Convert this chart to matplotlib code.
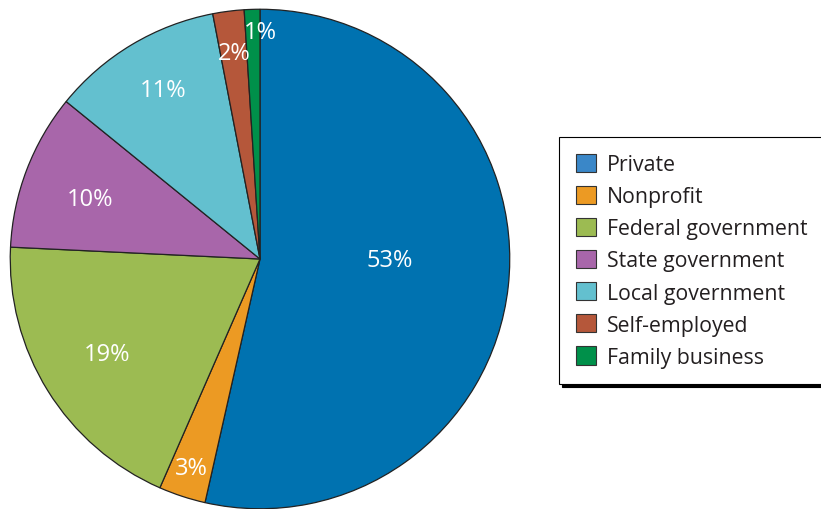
import matplotlib
matplotlib.use("Agg")
import matplotlib.pyplot as plt
import matplotlib.patches as mpatches
import numpy as np

plt.rcParams.update({
    "font.family": ["Open Sans", "DejaVu Sans"],
    "font.size": 15,
})

sectors = ["Private", "Nonprofit", "Federal government", "State government",
           "Local government", "Self-employed", "Family business"]
shares = [53, 3, 19, 10, 11, 2, 1]
labels = ["53%", "3%", "19%", "10%", "11%", "2%", "1%"]
pie_colors = ["#0072b0", "#ec9a23", "#9cbb52", "#a866aa", "#63c0cf", "#b5573a", "#00904a"]
legend_colors = ["#3a87c8", "#ec9a23", "#9cbb52", "#a866aa", "#63c0cf", "#b5573a", "#00904a"]

# radial position of each label (fraction of radius) and small angle nudges (deg)
label_r = [0.52, 0.88, 0.72, 0.72, 0.78, 0.83, 0.91]
label_nudge = [6, 0, 0, 1.5, -1, 0, -1.8]

fig = plt.figure(figsize=(8.21, 5.10), dpi=100)
ax = fig.add_axes([9 / 821, -1 / 510, 502 / 821, 502 / 510])

wedges, _ = ax.pie(shares, colors=pie_colors, startangle=90, counterclock=False,
                   radius=1, wedgeprops=dict(edgecolor="#222222", linewidth=0.9))
ax.set_xlim(-1.005, 1.005)
ax.set_ylim(-1.005, 1.005)
ax.set_aspect("equal")

for w, lab, r, nd in zip(wedges, labels, label_r, label_nudge):
    mid = np.deg2rad((w.theta1 + w.theta2) / 2 + nd)
    ax.text(r * np.cos(mid), r * np.sin(mid), lab, color="white",
            ha="center", va="center", fontsize=17)

handles = [mpatches.Patch(facecolor=c, edgecolor="#333333", linewidth=0.8) for c in legend_colors]
leg = fig.legend(handles, sectors, loc="upper left",
                 bbox_to_anchor=(559 / 821, 1 - 138 / 510),
                 frameon=True, fancybox=False, shadow={"color": "black", "alpha": 1},
                 handlelength=0.94, handleheight=0.94, handletextpad=0.52,
                 labelspacing=0.505, borderpad=0.78, borderaxespad=0, fontsize=15.3)
leg.get_frame().set_edgecolor("black")
leg.get_frame().set_linewidth(0.8)
for t in leg.get_texts():
    t.set_color("#231f20")

fig.savefig("out.png", dpi=100)
